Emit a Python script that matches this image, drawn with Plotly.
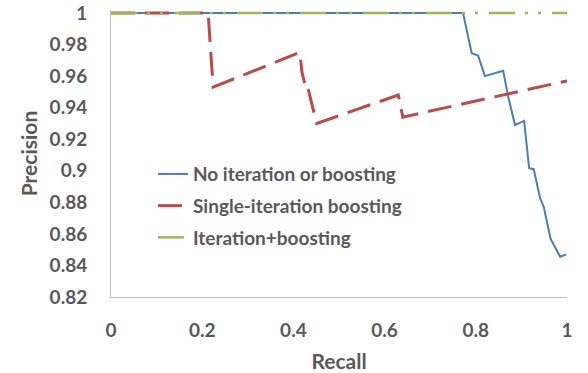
import plotly.graph_objects as go

# Data
blue_recall = [0.0, 0.772, 0.791, 0.805, 0.820, 0.860, 0.871, 0.886, 0.906, 0.917, 0.927, 0.941, 0.949, 0.964, 0.985, 0.998]
blue_prec   = [1.0, 1.0, 0.9745, 0.973, 0.960, 0.9634, 0.947, 0.929, 0.9316, 0.9016, 0.901, 0.8826, 0.8772, 0.857, 0.8455, 0.847]

red_recall = [0.0, 0.213, 0.224, 0.414, 0.419, 0.428, 0.431, 0.434, 0.451, 0.630, 0.640, 1.0]
red_prec   = [1.0, 1.0, 0.953, 0.975, 0.962, 0.952, 0.953, 0.950, 0.930, 0.948, 0.934, 0.957]

green_recall = [0.0, 1.0]
green_prec   = [1.0, 1.0]

names = ["No iteration or boosting", "Single-iteration boosting", "Iteration+boosting"]

x_ticks = [0, 0.2, 0.4, 0.6, 0.8, 1]
x_ticktext = ["0", "0.2", "0.4", "0.6", "0.8", "1"]
y_ticks = [0.82, 0.84, 0.86, 0.88, 0.9, 0.92, 0.94, 0.96, 0.98, 1.0]
y_ticktext = ["0.82", "0.84", "0.86", "0.88", "0.9", "0.92", "0.94", "0.96", "0.98", "1"]

TXT = "#595959"
FONT = "Lato"

fig = go.Figure()
fig.add_trace(go.Scatter(x=blue_recall, y=blue_prec, mode="lines", name=names[0],
                         legendgroup="a", line=dict(color="#4A7EBB", width=2)))
fig.add_trace(go.Scatter(x=red_recall, y=red_prec, mode="lines", name=names[1],
                         legendgroup="b", line=dict(color="#BE4B48", width=3, dash="24px,10px")))
fig.add_trace(go.Scatter(x=green_recall, y=green_prec, mode="lines", name=names[2],
                         legendgroup="c", line=dict(color="#98B954", width=2.5,
                                                    dash="26px,10px,3px,10px,3px,11px")))

tickfont = dict(family=FONT, size=19, color=TXT, weight="bold")
titlefont = dict(family=FONT, size=21, color=TXT, weight="bold")

fig.update_layout(
    width=588, height=373,
    margin=dict(l=111, r=21, t=10, b=76, autoexpand=False),
    paper_bgcolor="white", plot_bgcolor="white",
    font=dict(family=FONT, color=TXT, size=18, weight="bold"),
    showlegend=True,
    legend=dict(x=0.092, y=0.4945, xanchor="left", yanchor="top",
                bgcolor="rgba(0,0,0,0)", tracegroupgap=4,
                font=dict(family=FONT, size=19, color=TXT, weight="bold")),
    xaxis=dict(range=[0, 1], tickvals=x_ticks, ticktext=x_ticktext, automargin=False,
               showgrid=False, zeroline=False, showline=True, linecolor="#BFBFBF", linewidth=1,
               ticks="outside", ticklen=16, tickcolor="rgba(0,0,0,0)",
               tickfont=tickfont, ticklabeloverflow="allow",
               title=dict(text="Recall", standoff=14, font=titlefont)),
    yaxis=dict(range=[0.82, 1.0019], tickvals=y_ticks, ticktext=y_ticktext, automargin=False,
               showgrid=False, zeroline=False, showline=True, linecolor="#BFBFBF", linewidth=1,
               ticks="outside", ticklen=19, tickcolor="rgba(0,0,0,0)",
               tickfont=tickfont, ticklabeloverflow="allow",
               title=dict(text="Precision", standoff=6, font=titlefont)),
)

fig.write_html("out.html", config={"displayModeBar": False},
               post_script="document.body.style.margin='0px';")
